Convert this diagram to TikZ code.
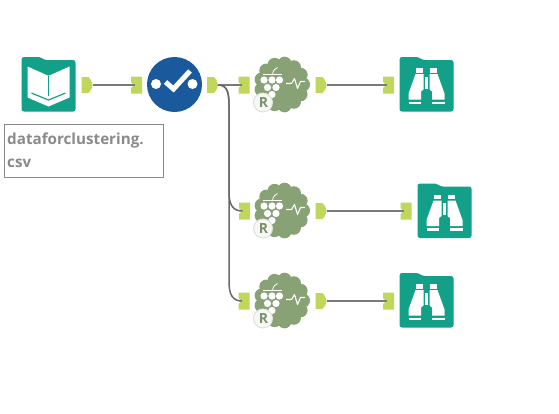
\documentclass[tikz,border=0pt]{standalone}
\usepackage{fontspec}
\setmainfont{Open Sans}
\definecolor{teal}{HTML}{12A088}
\definecolor{bluetool}{HTML}{1A5A9C}
\definecolor{portgreen}{HTML}{BFD85C}
\definecolor{cloudgreen}{HTML}{88A175}
\definecolor{wiregray}{HTML}{7A7A7A}
\definecolor{trunkgray}{HTML}{6A6A6A}
\definecolor{labelgray}{HTML}{8A8A8A}
\tikzset{
  x=1pt,y=-1pt,
  wire/.style={draw=wiregray,line width=1.2pt},
  trunk/.style={draw=trunkgray,line width=1.5pt},
  labelbox/.style={draw=labelgray,line width=0.9pt,fill=white,minimum width=159pt,minimum height=53pt,inner sep=0pt},
  labeltext/.style={text=labelgray,font=\fontsize{15.2}{23}\selectfont\bfseries,align=left,anchor=north west,inner sep=0pt},
  folder/.pic={
    \fill[teal,rounded corners=2.5pt] (-27,-27.5) -- (-8,-27.5) -- (-4,-24.5) -- (27,-24.5) -- (27,27) -- (-27,27) -- cycle;
  },
  bookicon/.pic={
    \pic {folder};
    \fill[white] (-21,-18) -- (-0.8,-9) -- (0.8,-9) -- (21,-18) -- (21,13) -- (0,22) -- (-21,13) -- cycle;
    \draw[teal,line width=1pt] (0,-9) -- (0,11);
    \draw[teal,line width=1.2pt] (-17,8.5) -- (0,15.5) -- (17,8.5);
  },
  binoicon/.pic={
    \pic {folder};
    \fill[white] (-10.5,-16.5) rectangle (-3.5,-12);
    \fill[white] (3.5,-16.5) rectangle (10.5,-12);
    \fill[white] (-11,-10.5) -- (-3,-10.5) -- (-3,5) -- (-5.5,7) -- (-5.5,15) -- (-18,15) -- (-18,9) -- cycle;
    \fill[white] (11,-10.5) -- (3,-10.5) -- (3,5) -- (5.5,7) -- (5.5,15) -- (18,15) -- (18,9) -- cycle;
    \fill[white] (-1.8,-8) rectangle (1.8,4);
    \fill[white] (-18,17) rectangle (-5.5,19.5);
    \fill[white] (5.5,17) rectangle (18,19.5);
  },
  outport/.pic={
    \fill[portgreen] (-5.5,-8) -- (1.5,-8) .. controls (4,-5) and (5.5,-3) .. (5.5,0) .. controls (5.5,3) and (4,5) .. (1.5,8) -- (-5.5,8) -- cycle;
    \coordinate (-c) at (5.5,0);
  },
  inport/.pic={
    \fill[portgreen] (-5.5,-8.5) -- (5.5,-8.5) -- (5.5,8.5) -- (-5.5,8.5) -- (-5.5,3) -- (-2.5,0) -- (-5.5,-3) -- cycle;
    \coordinate (-c) at (-2,0);
  },
  rtool/.pic={
    \fill[cloudgreen] (0,0) circle (22);
    \foreach \a in {0,27.7,...,340} {\fill[cloudgreen] (\a:21) circle (7);}
    \draw[white,line width=1pt] (-19,-10) -- (0,-10);
    \draw[white,line width=0.8pt] (-9.5,-10) .. controls (-9,-14) and (-7,-16) .. (-4.5,-17);
    \foreach \p in {(-18,-4.5),(-10,-4.5),(-2.5,-4.5),(-14.5,3),(-6,3),(-10,10)} {\fill[white] \p circle (3.6);}
    \draw[white,line width=1.1pt,line join=round] (4,-1) -- (9.5,-1) -- (12.5,-6) -- (15.5,4) -- (18.5,-3) -- (23,-3);
    \fill[white!93!cloudgreen,draw=white!88!black,line width=1pt] (-19,18) circle (9.5);
    \node[inner sep=0pt,text=cloudgreen!90!black,font=\fontsize{14}{14}\selectfont\bfseries] at (-18.5,18) {R};
  }
}
\begin{document}
\begin{tikzpicture}
\useasboundingbox (0,0) rectangle (559,413);
\fill[white] (0,0) rectangle (559,413);

% tools
\pic (book) at (48.5,84.5) {bookicon};
\node[circle,fill=bluetool,minimum size=55pt,inner sep=0pt] (select) at (174.5,84.5) {};
\pic (r1) at (282,84.5) {rtool};
\pic (r2) at (282,210.5) {rtool};
\pic (r3) at (282,300.5) {rtool};
\pic (b1) at (426.5,84.5) {binoicon};
\pic (b2) at (444.5,211) {binoicon};
\pic (b3) at (426.5,300.5) {binoicon};

% select tool glyph
\fill[white] (156,84) circle (5);
\fill[white] (192.5,84) circle (5);
\draw[white,line width=5pt] (165.5,82) -- (173.5,89) -- (190,71);

% ports
\pic (o0) at (87,85) {outport};
\pic (i0) at (136.5,85) {inport};
\pic (o1) at (212.5,85) {outport};
\pic (i1) at (244,85) {inport};
\pic (i2) at (244.5,211) {inport};
\pic (i3) at (244,301) {inport};
\pic (p1) at (321,85) {outport};
\pic (q1) at (388.5,85) {inport};
\pic (p2) at (321,211) {outport};
\pic (q2) at (406,211) {inport};
\pic (p3) at (321,301) {outport};
\pic (q3) at (388.5,301) {inport};

% connectors
\draw[wire] (o0-c) -- (i0-c);
\draw[wire] (o1-c) -- (i1-c);
\draw[wire] (p1-c) -- (q1-c);
\draw[wire] (p2-c) -- (q2-c);
\draw[wire] (p3-c) -- (q3-c);
\draw[trunk] (o1-c) .. controls (226,85) and (229,90) .. (229,105) -- (229,192) .. controls (229,205) and (233,211) .. (i2-c);
\draw[trunk] (o1-c) .. controls (226,85) and (229,90) .. (229,105) -- (229,282) .. controls (229,295) and (233,301) .. (i3-c);

% label
\node[labelbox] (lab) at (84,150.5) {};
\node[labeltext] (labt) at (7,133) {dataforclustering.\\csv};
\end{tikzpicture}
\end{document}
